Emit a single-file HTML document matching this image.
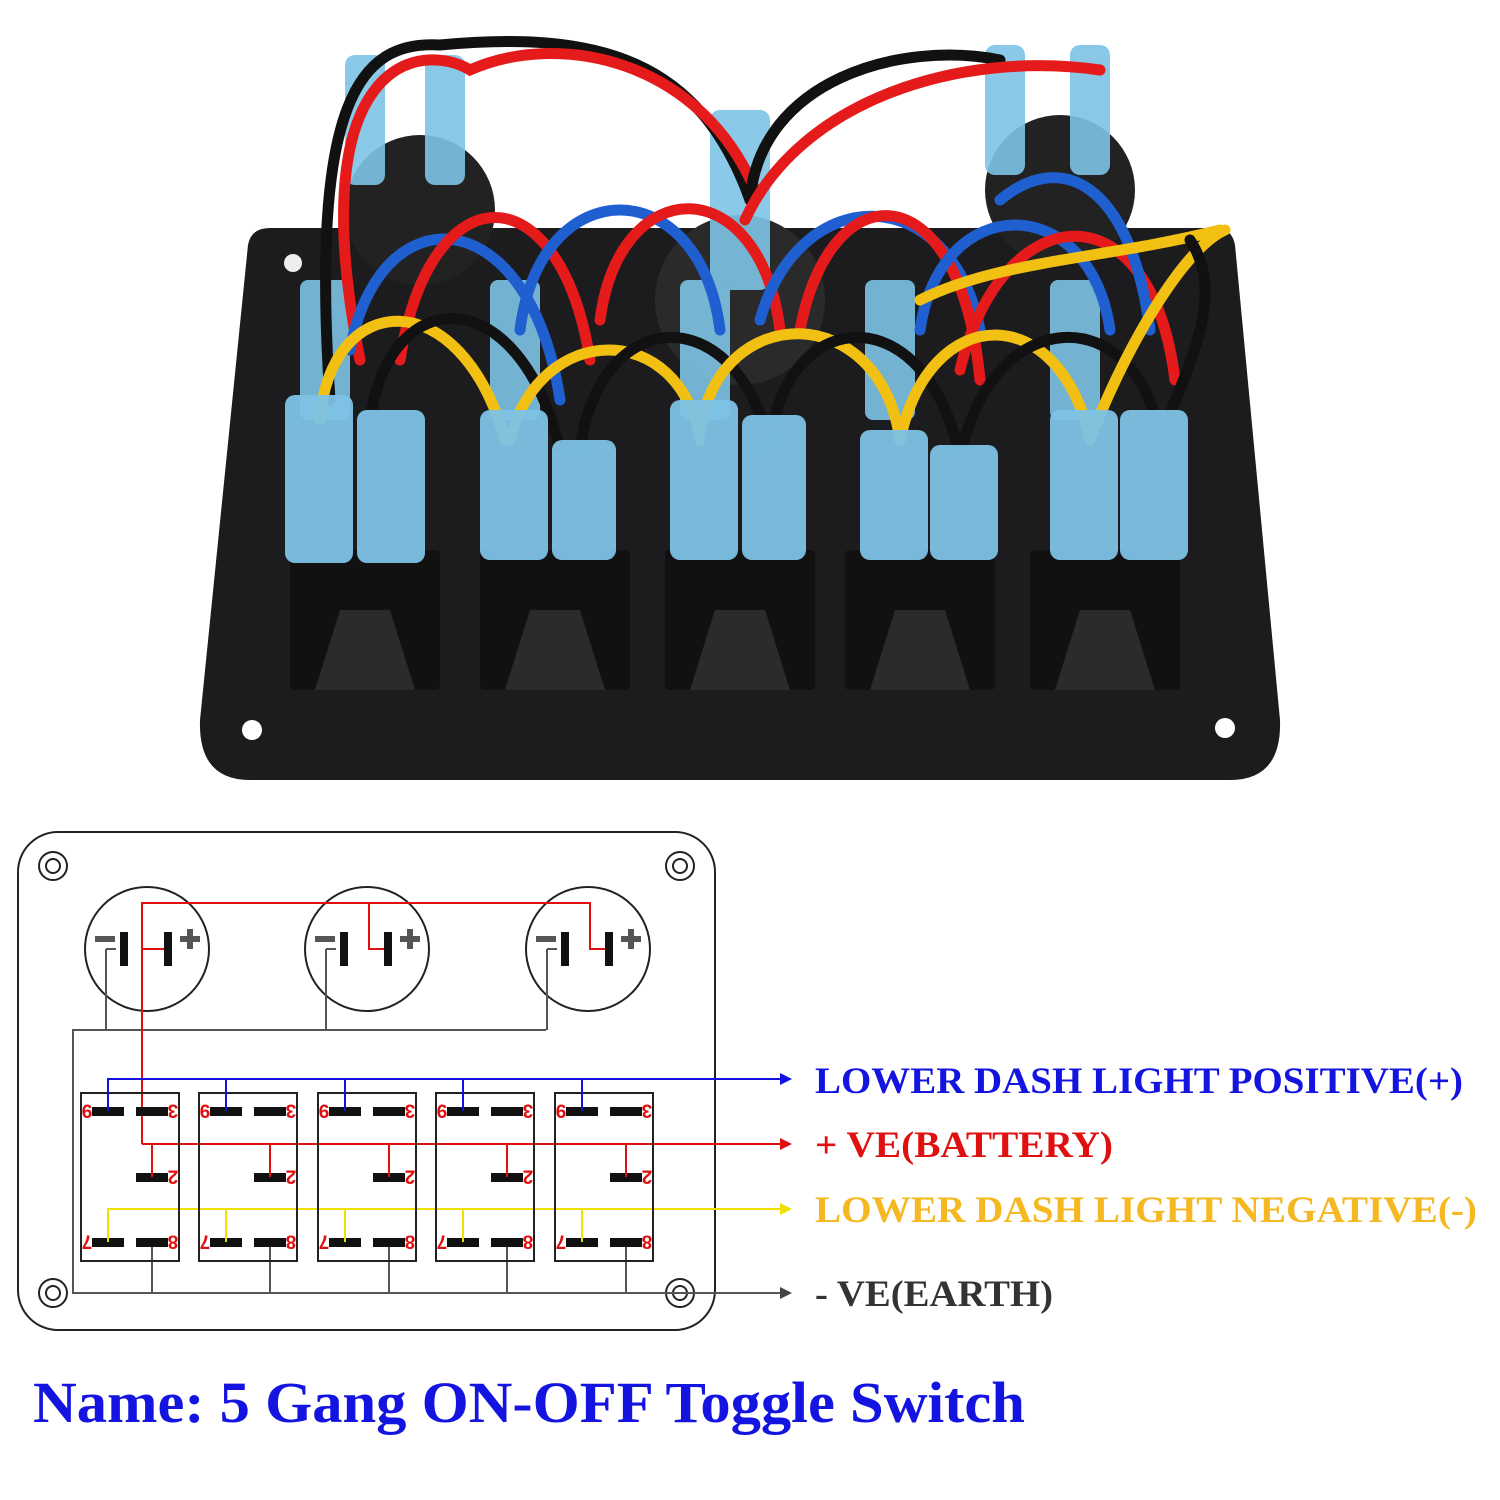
<!DOCTYPE html>
<html><head><meta charset="utf-8"><style>
html,body{margin:0;padding:0;background:#fff;}
svg{display:block}
</style></head><body>
<svg width="1500" height="1500" viewBox="0 0 1500 1500" xmlns="http://www.w3.org/2000/svg">
<defs>
<marker id="ab" markerWidth="12" markerHeight="12" refX="10" refY="6" orient="auto" markerUnits="userSpaceOnUse"><path d="M0,0 L12,6 L0,12 z" fill="#1010e0"/></marker>
<marker id="ar" markerWidth="12" markerHeight="12" refX="10" refY="6" orient="auto" markerUnits="userSpaceOnUse"><path d="M0,0 L12,6 L0,12 z" fill="#e01010"/></marker>
<marker id="ay" markerWidth="12" markerHeight="12" refX="10" refY="6" orient="auto" markerUnits="userSpaceOnUse"><path d="M0,0 L12,6 L0,12 z" fill="#f0e000"/></marker>
<marker id="ag" markerWidth="12" markerHeight="12" refX="10" refY="6" orient="auto" markerUnits="userSpaceOnUse"><path d="M0,0 L12,6 L0,12 z" fill="#444"/></marker>
</defs>

<!-- PHOTO approximation -->
<path d="M270,228 L1215,228 Q1232,228 1235,245 L1280,720 Q1282,780 1230,780 L250,780 Q198,780 200,720 L248,245 Q251,228 270,228 Z" fill="#1c1c1e"/>
<circle cx="293" cy="263" r="9" fill="#eee"/>
<circle cx="252" cy="730" r="10" fill="#fff"/>
<circle cx="1225" cy="728" r="10" fill="#fff"/>
<circle cx="420" cy="210" r="75" fill="#222"/>
<circle cx="1060" cy="190" r="75" fill="#222"/>
<circle cx="740" cy="300" r="85" fill="#2a2a2a"/>
<g fill="#111">
<rect x="290" y="550" width="150" height="140" rx="4"/>
<rect x="480" y="550" width="150" height="140" rx="4"/>
<rect x="665" y="550" width="150" height="140" rx="4"/>
<rect x="845" y="550" width="150" height="140" rx="4"/>
<rect x="1030" y="550" width="150" height="140" rx="4"/>
</g>
<g fill="#2b2b2b">
<path d="M315,690 L340,610 L390,610 L415,690Z"/>
<path d="M505,690 L530,610 L580,610 L605,690Z"/>
<path d="M690,690 L715,610 L765,610 L790,690Z"/>
<path d="M870,690 L895,610 L945,610 L970,690Z"/>
<path d="M1055,690 L1080,610 L1130,610 L1155,690Z"/>
</g>
<g fill="#7ec3e6" opacity="0.9">
<rect x="345" y="55" width="40" height="130" rx="10"/>
<rect x="425" y="55" width="40" height="130" rx="10"/>
<rect x="710" y="110" width="60" height="180" rx="10"/>
<rect x="985" y="45" width="40" height="130" rx="10"/>
<rect x="1070" y="45" width="40" height="130" rx="10"/>
<rect x="300" y="280" width="50" height="140" rx="8"/>
<rect x="490" y="280" width="50" height="140" rx="8"/>
<rect x="680" y="280" width="50" height="140" rx="8"/>
<rect x="865" y="280" width="50" height="140" rx="8"/>
<rect x="1050" y="280" width="50" height="140" rx="8"/>
</g>
<g fill="none" stroke-width="11" stroke-linecap="round">
<path d="M330,400 C310,100 360,40 440,45 C600,30 700,60 750,200" stroke="#111"/>
<path d="M360,360 C300,60 420,40 470,70 C560,30 700,60 755,190" stroke="#e51b1b"/>
<path d="M750,200 C760,80 900,40 1000,60" stroke="#111"/>
<path d="M745,220 C800,100 960,50 1100,70" stroke="#e51b1b"/>
<path d="M350,350 C380,190 530,200 560,400" stroke="#1f5fd0"/>
<path d="M400,360 C430,170 560,170 590,360" stroke="#e51b1b"/>
<path d="M520,330 C540,170 700,170 720,330" stroke="#1f5fd0"/>
<path d="M600,320 C620,170 760,170 780,330" stroke="#e51b1b"/>
<path d="M760,320 C800,180 950,180 980,330" stroke="#1f5fd0"/>
<path d="M800,330 C830,170 960,170 980,380" stroke="#e51b1b"/>
<path d="M920,330 C940,190 1090,190 1110,330" stroke="#1f5fd0"/>
<path d="M960,370 C1000,200 1150,180 1175,380" stroke="#e51b1b"/>
<path d="M1000,200 C1060,150 1130,180 1150,330" stroke="#1f5fd0"/>
<path d="M920,300 C1000,260 1100,260 1220,230" stroke="#f2c012"/>
<path d="M320,420 C330,290 460,280 505,440" stroke="#f2c012"/>
<path d="M370,420 C390,280 520,280 560,450" stroke="#111"/>
<path d="M510,440 C540,320 680,320 700,440" stroke="#f2c012"/>
<path d="M580,450 C600,300 740,300 770,450" stroke="#111"/>
<path d="M700,430 C720,300 880,300 900,440" stroke="#f2c012"/>
<path d="M770,440 C790,300 930,300 960,460" stroke="#111"/>
<path d="M900,440 C930,300 1060,300 1090,440" stroke="#f2c012"/>
<path d="M960,460 C990,300 1140,300 1160,440" stroke="#111"/>
<path d="M1090,440 C1120,360 1180,250 1225,230" stroke="#f2c012"/>
<path d="M1160,440 C1180,380 1230,300 1190,240" stroke="#111"/>
</g>
<g fill="#7ec3e6" opacity="0.95">
<rect x="285" y="395" width="68" height="168" rx="10"/>
<rect x="357" y="410" width="68" height="153" rx="10"/>
<rect x="480" y="410" width="68" height="150" rx="10"/>
<rect x="552" y="440" width="64" height="120" rx="10"/>
<rect x="670" y="400" width="68" height="160" rx="10"/>
<rect x="742" y="415" width="64" height="145" rx="10"/>
<rect x="860" y="430" width="68" height="130" rx="10"/>
<rect x="930" y="445" width="68" height="115" rx="10"/>
<rect x="1050" y="410" width="68" height="150" rx="10"/>
<rect x="1120" y="410" width="68" height="150" rx="10"/>
</g>

<!-- DIAGRAM -->
<rect x="18" y="832" width="697" height="498" rx="40" fill="none" stroke="#222" stroke-width="2"/>
<g fill="none" stroke="#222" stroke-width="2">
<circle cx="53" cy="866" r="14"/><circle cx="53" cy="866" r="7"/>
<circle cx="680" cy="866" r="14"/><circle cx="680" cy="866" r="7"/>
<circle cx="53" cy="1293" r="14"/><circle cx="53" cy="1293" r="7"/>
<circle cx="680" cy="1293" r="14"/><circle cx="680" cy="1293" r="7"/>
<circle cx="147" cy="949" r="62"/><circle cx="367" cy="949" r="62"/><circle cx="588" cy="949" r="62"/>
</g>
<g fill="none" stroke="#555" stroke-width="2">
<path d="M106,949 L106,1030 M326,949 L326,1030 M547,949 L547,1030"/>
<path d="M116,949 L106,949 M336,949 L326,949 M557,949 L547,949"/>
<path d="M546,1030 L73,1030 L73,1293 L790,1293" marker-end="url(#ag)"/>
<path d="M152,1242 V1293 M270,1242 V1293 M389,1242 V1293 M507,1242 V1293 M626,1242 V1293"/>
</g>
<g fill="none" stroke="#e01010" stroke-width="2">
<path d="M142,1144 L142,903 L590,903 L590,949 L608,949"/>
<path d="M369,903 L369,949 L388,949"/>
<path d="M142,949 L166,949"/>
<path d="M142,1144 L790,1144" marker-end="url(#ar)"/>
</g>
<g fill="#111">
<rect x="120" y="932" width="8" height="34"/><rect x="164" y="932" width="8" height="34"/>
<rect x="340" y="932" width="8" height="34"/><rect x="384" y="932" width="8" height="34"/>
<rect x="561" y="932" width="8" height="34"/><rect x="605" y="932" width="8" height="34"/>
</g>
<g fill="#555">
<rect x="95" y="936" width="20" height="6"/><rect x="180" y="936" width="20" height="6"/><rect x="187" y="929" width="6" height="20"/>
<rect x="315" y="936" width="20" height="6"/><rect x="400" y="936" width="20" height="6"/><rect x="407" y="929" width="6" height="20"/>
<rect x="536" y="936" width="20" height="6"/><rect x="621" y="936" width="20" height="6"/><rect x="628" y="929" width="6" height="20"/>
</g>
<g fill="none" stroke="#1010e0" stroke-width="2">
<path d="M108,1111 L108,1079 L790,1079" marker-end="url(#ab)"/>
</g>
<g fill="none" stroke="#f0e000" stroke-width="2">
<path d="M108,1242 L108,1209 L790,1209" marker-end="url(#ay)"/>
</g>
<g id="sw">
<rect x="81" y="1093" width="98" height="168" fill="none" stroke="#222" stroke-width="2"/>
<rect x="92" y="1107" width="32" height="9" fill="#111"/>
<rect x="136" y="1107" width="32" height="9" fill="#111"/>
<rect x="136" y="1173" width="32" height="9" fill="#111"/>
<rect x="92" y="1238" width="32" height="9" fill="#111"/>
<rect x="136" y="1238" width="32" height="9" fill="#111"/>
<g fill="#e01010" font-family="Liberation Sans, sans-serif" font-weight="bold" font-size="19" text-anchor="middle">
<text transform="translate(87,1104.5) rotate(180)">9</text>
<text transform="translate(173,1104.5) rotate(180)">3</text>
<text transform="translate(173,1170.5) rotate(180)">2</text>
<text transform="translate(87,1235.5) rotate(180)">7</text>
<text transform="translate(173,1235.5) rotate(180)">8</text>
</g>
</g>
<use href="#sw" x="118"/><use href="#sw" x="237"/><use href="#sw" x="355"/><use href="#sw" x="474"/>
<g stroke-width="2">
<path d="M108,1079 V1111 M226,1079 V1111 M345,1079 V1111 M463,1079 V1111 M582,1079 V1111" stroke="#1010e0"/>
<path d="M152,1144 V1177 M270,1144 V1177 M389,1144 V1177 M507,1144 V1177 M626,1144 V1177" stroke="#e01010"/>
<path d="M108,1209 V1242 M226,1209 V1242 M345,1209 V1242 M463,1209 V1242 M582,1209 V1242" stroke="#f0e000"/>
</g>
<g font-family="Liberation Serif, serif" font-weight="bold" font-size="37" lengthAdjust="spacingAndGlyphs">
<text x="815" y="1093" fill="#1414e0" textLength="648" lengthAdjust="spacingAndGlyphs">LOWER DASH LIGHT POSITIVE(+)</text>
<text x="815" y="1157" fill="#e01010" textLength="298" lengthAdjust="spacingAndGlyphs">+ VE(BATTERY)</text>
<text x="815" y="1222" fill="#f5b820" textLength="662" lengthAdjust="spacingAndGlyphs">LOWER DASH LIGHT NEGATIVE(-)</text>
<text x="815" y="1306" fill="#333" textLength="238" lengthAdjust="spacingAndGlyphs">- VE(EARTH)</text>
</g>
<text x="33" y="1422" font-family="Liberation Serif, serif" font-weight="bold" font-size="58" fill="#1414e0" textLength="992" lengthAdjust="spacingAndGlyphs">Name: 5 Gang ON-OFF Toggle Switch</text>
</svg>
</body></html>
